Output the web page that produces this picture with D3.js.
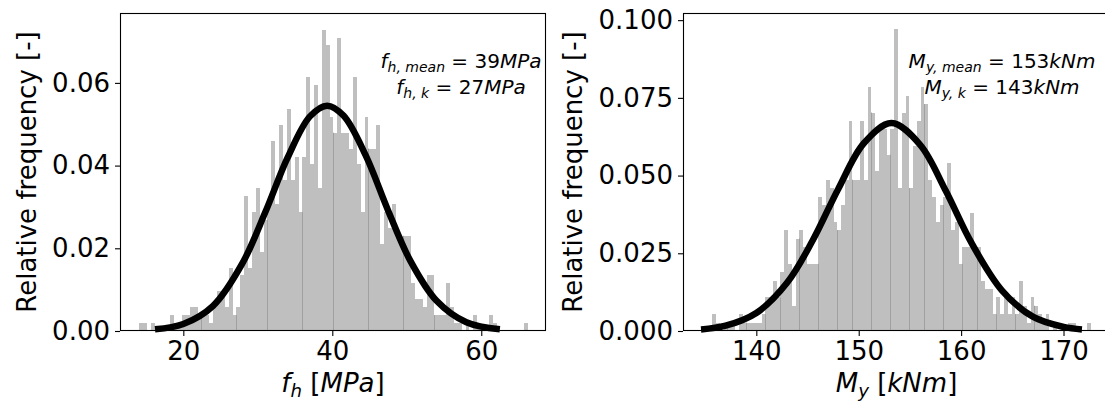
<!DOCTYPE html>
<html>
<head>
<meta charset="utf-8">
<script src="https://cdn.jsdelivr.net/npm/d3@7"></script>
<style>
    body { margin: 0; background: #fff; }
    svg text { font-family: "DejaVu Sans", sans-serif; fill: #000; }
</style>
</head>
<body>
<script>
// number of samples behind each histogram
const sampleCount = 1000;

// f_h histogram (100 bins, counts)
const fhBinStart = 14.09;
const fhBinWidth = 0.5214;
const fhCounts = [
    1, 1, 0, 1, 0, 0, 0, 0, 2, 1,
    1, 2, 2, 3, 3, 2, 2, 2, 1, 3,
    5, 5, 3, 8, 2, 3, 7, 17, 8, 15,
    18, 10, 14, 16, 24, 16, 26, 19, 28, 19,
    22, 15, 22, 32, 21, 31, 18, 38, 36, 27,
    25, 37, 25, 25, 23, 32, 21, 15, 27, 23,
    23, 26, 11, 15, 13, 16, 12, 12, 12, 12,
    6, 4, 4, 3, 7, 7, 2, 2, 2, 6,
    3, 1, 1, 0, 1, 0, 2, 1, 0, 0,
    2, 1, 0, 0, 0, 0, 0, 0, 0, 1
];
// fitted normal curve
const fhCurveX = [16.2, 20, 24, 28, 31, 34, 37, 39.3, 41.5, 44.5, 47.5, 50.5, 54, 58, 62.5];
const fhCurveY = [0.0004, 0.0017, 0.0061, 0.0166, 0.0287, 0.0419, 0.0519, 0.0545,
                  0.0521, 0.0424, 0.0291, 0.0169, 0.0073, 0.0021, 0.0004];
const fhXTicks = [20, 40, 60];
const fhYTicks = [0, 0.02, 0.04, 0.06];

// M_y histogram
const myBinStart = 135.70;
const myBinWidth = 0.370;
const myCounts = [
    2, 1, 0, 1, 1, 1, 0, 2, 1, 1,
    1, 1, 1, 2, 4, 4, 6, 4, 7, 12,
    8, 3, 11, 12, 10, 8, 8, 8, 16, 15,
    18, 17, 13, 12, 15, 18, 25, 18, 18, 25,
    18, 29, 26, 19, 24, 24, 21, 24, 36, 17,
    26, 28, 17, 22, 25, 29, 27, 18, 16, 13,
    15, 16, 20, 12, 13, 8, 10, 10, 14, 10,
    10, 6, 5, 5, 2, 4, 2, 4, 2, 4,
    2, 6, 3, 1, 4, 3, 2, 1, 2, 0,
    1, 0, 0, 0, 1, 1, 0, 0, 0, 1
];
const myCurveX = [134.6, 137, 140, 143, 145.5, 148, 150.5, 153.2, 156, 158.5, 161, 164, 167, 170, 171.8];
const myCurveY = [0.0005, 0.0017, 0.0058, 0.0155, 0.0291, 0.0457, 0.0604, 0.0669,
                  0.0599, 0.0451, 0.0284, 0.0130, 0.0046, 0.0013, 0.0005];
const myXTicks = [140, 150, 160, 170];
const myYTicks = [0, 0.025, 0.05, 0.075, 0.1];

const width = 1105;
const height = 405;
const tickFont = 26;
const noteFont = 20;

const svg = d3.select('body').append('svg')
    .attr('width', width)
    .attr('height', height);

// write a small piece of "mathtext": parts are {t, it, sub}
function mathText(sel, parts, size) {
    let inSub = false;
    parts.forEach((p) => {
        const span = sel.append('tspan').text(p.t);
        if (p.it) span.attr('font-style', 'italic');
        if (p.sub && !inSub) {
            span.attr('font-size', size * 0.7).attr('dy', size * 0.2);
            inSub = true;
        } else if (p.sub) {
            span.attr('font-size', size * 0.7);
        } else if (inSub) {
            span.attr('dy', -size * 0.2);
            inSub = false;
        }
    });
    return sel;
}

function drawPanel(cfg) {
    const g = svg.append('g');
    const x = d3.scaleLinear().domain(cfg.xDomain).range([cfg.left, cfg.right]);
    const y = d3.scaleLinear().domain(cfg.yDomain).range([cfg.bottom, cfg.top]);

    const bins = cfg.counts.map((c, i) => ({
        x0: cfg.binStart + i * cfg.binWidth,
        x1: cfg.binStart + (i + 1) * cfg.binWidth,
        h: c / (sampleCount * cfg.binWidth)
    }));

    // bars
    g.append('g')
        .attr('shape-rendering', 'crispEdges')
        .selectAll('rect')
        .data(bins.filter(d => d.h > 0))
        .join('rect')
        .attr('x', d => Math.round(x(d.x0)))
        .attr('width', d => Math.round(x(d.x1)) - Math.round(x(d.x0)))
        .attr('y', d => y(d.h))
        .attr('height', d => y(0) - y(d.h))
        .attr('fill', '#bfbfbf');

    // darker seams where a bar snaps narrower than usual
    const binPx = Math.round(x(cfg.binStart + cfg.binWidth) - x(cfg.binStart));
    const seams = [];
    for (let i = 1; i < bins.length; i++) {
        const a = Math.round(x(bins[i - 1].x0));
        const b = Math.round(x(bins[i - 1].x1));
        const h = Math.min(bins[i - 1].h, bins[i].h);
        if (b - a < binPx && h > 0) seams.push({px: b, h: h});
    }
    g.append('g')
        .selectAll('line')
        .data(seams)
        .join('line')
        .attr('x1', d => d.px + 0.5)
        .attr('x2', d => d.px + 0.5)
        .attr('y1', y(0))
        .attr('y2', d => y(d.h))
        .attr('stroke', '#a0a0a0')
        .attr('stroke-width', 1);

    // fitted curve
    const pts = cfg.curveX.map((v, i) => [v, cfg.curveY[i]]);
    g.append('path')
        .datum(pts)
        .attr('d', d3.line().x(d => x(d[0])).y(d => y(d[1])).curve(d3.curveCatmullRom))
        .attr('fill', 'none')
        .attr('stroke', '#000')
        .attr('stroke-width', 6.5);

    // spines
    g.append('rect')
        .attr('x', cfg.left + 0.5)
        .attr('y', cfg.top + 0.5)
        .attr('width', cfg.right - cfg.left - 1)
        .attr('height', cfg.bottom - cfg.top - 1)
        .attr('fill', 'none')
        .attr('stroke', '#000')
        .attr('stroke-width', 1.1);

    // axes
    const xAxis = d3.axisBottom(x).tickValues(cfg.xTicks).tickSize(5).tickPadding(6)
        .tickFormat(d3.format('d'));
    const gx = g.append('g').attr('transform', `translate(0,${cfg.bottom})`).call(xAxis);
    const yAxis = d3.axisLeft(y).tickValues(cfg.yTicks).tickSize(5).tickPadding(5)
        .tickFormat(d3.format(cfg.yFormat));
    const gy = g.append('g').attr('transform', `translate(${cfg.left},0)`).call(yAxis);
    [gx, gy].forEach((ax) => {
        ax.select('.domain').remove();
        ax.selectAll('.tick line').attr('stroke', '#000').attr('stroke-width', 1.1);
        ax.selectAll('.tick text')
            .attr('font-size', tickFont)
            .attr('font-family', '"DejaVu Sans", sans-serif')
            .attr('fill', '#000');
    });

    // axis labels
    mathText(g.append('text')
        .attr('x', (cfg.left + cfg.right) / 2)
        .attr('y', cfg.xLabelY)
        .attr('text-anchor', 'middle')
        .attr('font-size', tickFont), cfg.xLabel, tickFont);

    g.append('text')
        .attr('transform', `translate(${cfg.yLabelX},${(cfg.top + cfg.bottom) / 2}) rotate(-90)`)
        .attr('text-anchor', 'middle')
        .attr('font-size', tickFont)
        .text('Relative frequency [-]');

    // annotation
    cfg.notes.forEach((line, i) => {
        mathText(g.append('text')
            .attr('x', cfg.noteX)
            .attr('y', cfg.noteY + i * 26)
            .attr('text-anchor', 'middle')
            .attr('font-size', noteFont), line, noteFont);
    });
}

drawPanel({
    left: 120, right: 546, top: 13, bottom: 331,
    xDomain: [11.50, 68.69], yDomain: [0, 0.0769],
    binStart: fhBinStart, binWidth: fhBinWidth, counts: fhCounts,
    curveX: fhCurveX, curveY: fhCurveY,
    xTicks: fhXTicks, yTicks: fhYTicks, yFormat: '.2f',
    xLabelY: 392, yLabelX: 36,
    xLabel: [{t: 'f', it: true}, {t: 'h', it: true, sub: true}, {t: ' ['}, {t: 'MPa', it: true}, {t: ']'}],
    noteX: 461, noteY: 68,
    notes: [
        [{t: 'f', it: true}, {t: 'h, mean', it: true, sub: true}, {t: ' = 39'}, {t: 'MPa', it: true}],
        [{t: 'f', it: true}, {t: 'h, k', it: true, sub: true}, {t: ' = 27'}, {t: 'MPa', it: true}]
    ]
});

drawPanel({
    left: 683, right: 1110, top: 13, bottom: 331,
    xDomain: [132.84, 174.54], yDomain: [0, 0.1023],
    binStart: myBinStart, binWidth: myBinWidth, counts: myCounts,
    curveX: myCurveX, curveY: myCurveY,
    xTicks: myXTicks, yTicks: myYTicks, yFormat: '.3f',
    xLabelY: 392, yLabelX: 582,
    xLabel: [{t: 'M', it: true}, {t: 'y', it: true, sub: true}, {t: ' ['}, {t: 'kNm', it: true}, {t: ']'}],
    noteX: 1002, noteY: 68,
    notes: [
        [{t: 'M', it: true}, {t: 'y, mean', it: true, sub: true}, {t: ' = 153'}, {t: 'kNm', it: true}],
        [{t: 'M', it: true}, {t: 'y, k', it: true, sub: true}, {t: ' = 143'}, {t: 'kNm', it: true}]
    ]
});
</script>
</body>
</html>
